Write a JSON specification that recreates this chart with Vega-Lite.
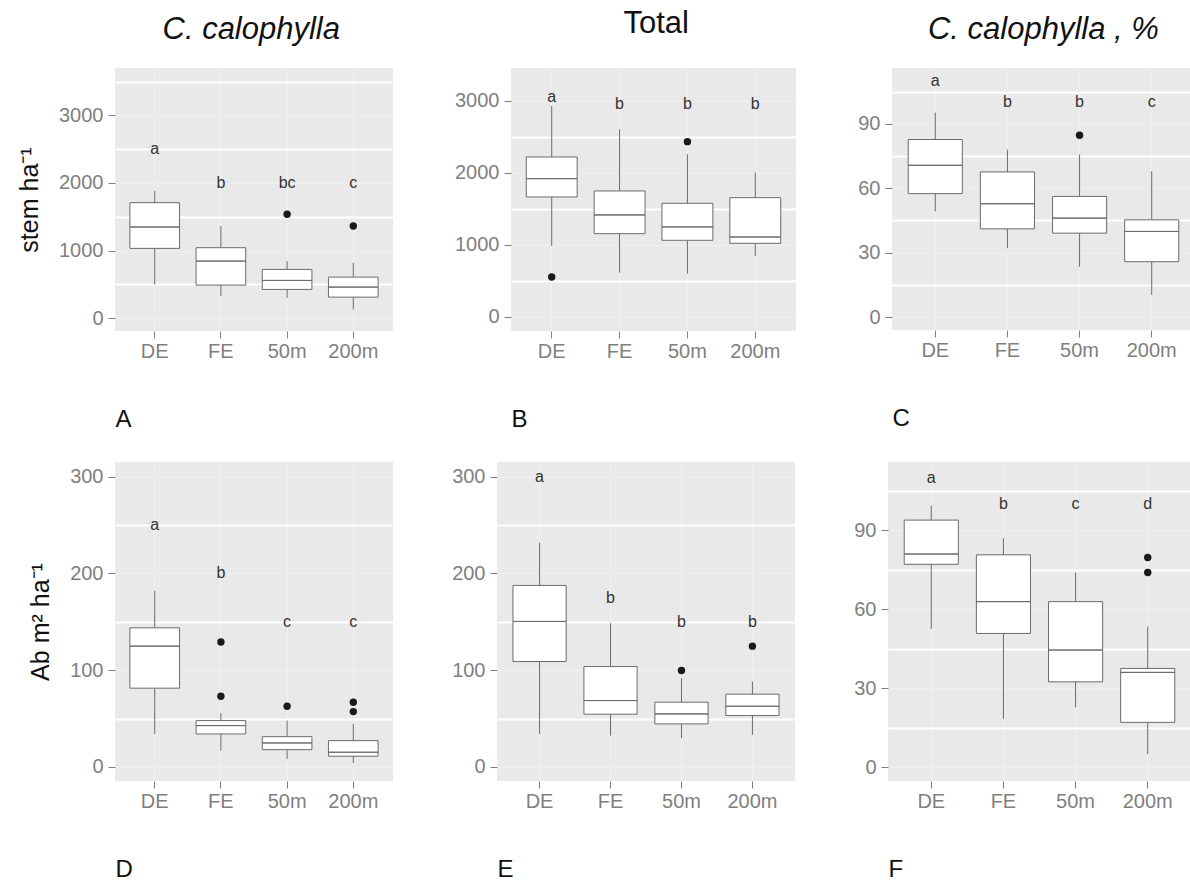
{
  "$schema": "https://vega.github.io/schema/vega-lite/v6.json",
  "background": "white",
  "padding": {"left": 17, "top": 8, "right": 0, "bottom": 0},
  "datasets": {
    "boxes": [
      {"panel": "A", "site": "DE", "lo": 499, "q1": 1032, "med": 1348, "q3": 1708, "hi": 1881},
      {"panel": "A", "site": "FE", "lo": 326, "q1": 489, "med": 844, "q3": 1042, "hi": 1363},
      {"panel": "A", "site": "50m", "lo": 301, "q1": 425, "med": 558, "q3": 721, "hi": 844},
      {"panel": "A", "site": "200m", "lo": 128, "q1": 311, "med": 459, "q3": 607, "hi": 820},
      {"panel": "B", "site": "DE", "lo": 986, "q1": 1667, "med": 1921, "q3": 2222, "hi": 2930},
      {"panel": "B", "site": "FE", "lo": 615, "q1": 1157, "med": 1417, "q3": 1750, "hi": 2606},
      {"panel": "B", "site": "50m", "lo": 602, "q1": 1065, "med": 1250, "q3": 1579, "hi": 2259},
      {"panel": "B", "site": "200m", "lo": 847, "q1": 1023, "med": 1111, "q3": 1657, "hi": 2005},
      {"panel": "C", "site": "DE", "lo": 49.2, "q1": 57.5, "med": 70.7, "q3": 82.7, "hi": 95.2},
      {"panel": "C", "site": "FE", "lo": 32.1, "q1": 41.1, "med": 52.8, "q3": 67.6, "hi": 78},
      {"panel": "C", "site": "50m", "lo": 23.5, "q1": 39.1, "med": 46.1, "q3": 56.2, "hi": 75.7},
      {"panel": "C", "site": "200m", "lo": 10.3, "q1": 25.8, "med": 39.9, "q3": 45.3, "hi": 67.9},
      {"panel": "D", "site": "DE", "lo": 34, "q1": 81.4, "med": 124.8, "q3": 143.7, "hi": 182},
      {"panel": "D", "site": "FE", "lo": 16.9, "q1": 34.1, "med": 42.7, "q3": 47.9, "hi": 55.8},
      {"panel": "D", "site": "50m", "lo": 8.3, "q1": 17.9, "med": 24.8, "q3": 31.3, "hi": 47.9},
      {"panel": "D", "site": "200m", "lo": 4.1, "q1": 11.1, "med": 15.2, "q3": 27.2, "hi": 44.5},
      {"panel": "E", "site": "DE", "lo": 34, "q1": 108.9, "med": 150.3, "q3": 187.5, "hi": 231.6},
      {"panel": "E", "site": "FE", "lo": 32.4, "q1": 54.5, "med": 68.6, "q3": 103.7, "hi": 148.6},
      {"panel": "E", "site": "50m", "lo": 29.6, "q1": 44.5, "med": 54.8, "q3": 66.9, "hi": 91.7},
      {"panel": "E", "site": "200m", "lo": 33.1, "q1": 53.1, "med": 62.7, "q3": 75.2, "hi": 88.2},
      {"panel": "F", "site": "DE", "lo": 52.5, "q1": 77.1, "med": 81, "q3": 93.9, "hi": 99.4},
      {"panel": "F", "site": "FE", "lo": 18.3, "q1": 50.8, "med": 62.9, "q3": 80.7, "hi": 87},
      {"panel": "F", "site": "50m", "lo": 22.7, "q1": 32.4, "med": 44.5, "q3": 62.9, "hi": 74},
      {"panel": "F", "site": "200m", "lo": 4.9, "q1": 17, "med": 36, "q3": 37.5, "hi": 53.5}
    ],
    "outliers": [
      {"panel": "A", "site": "50m", "v": 1536},
      {"panel": "A", "site": "200m", "v": 1363},
      {"panel": "B", "site": "DE", "v": 556},
      {"panel": "B", "site": "50m", "v": 2435},
      {"panel": "C", "site": "50m", "v": 84.7},
      {"panel": "D", "site": "FE", "v": 129},
      {"panel": "D", "site": "FE", "v": 73},
      {"panel": "D", "site": "50m", "v": 62.7},
      {"panel": "D", "site": "200m", "v": 66.9},
      {"panel": "D", "site": "200m", "v": 57.2},
      {"panel": "E", "site": "50m", "v": 99.6},
      {"panel": "E", "site": "200m", "v": 124.8},
      {"panel": "F", "site": "200m", "v": 79.7},
      {"panel": "F", "site": "200m", "v": 74}
    ],
    "letters": [
      {"panel": "A", "site": "DE", "letter": "a", "ly": 2500},
      {"panel": "A", "site": "FE", "letter": "b", "ly": 2000},
      {"panel": "A", "site": "50m", "letter": "bc", "ly": 2000},
      {"panel": "A", "site": "200m", "letter": "c", "ly": 2000},
      {"panel": "B", "site": "DE", "letter": "a", "ly": 3050},
      {"panel": "B", "site": "FE", "letter": "b", "ly": 2960},
      {"panel": "B", "site": "50m", "letter": "b", "ly": 2960},
      {"panel": "B", "site": "200m", "letter": "b", "ly": 2960},
      {"panel": "C", "site": "DE", "letter": "a", "ly": 110},
      {"panel": "C", "site": "FE", "letter": "b", "ly": 100},
      {"panel": "C", "site": "50m", "letter": "b", "ly": 100},
      {"panel": "C", "site": "200m", "letter": "c", "ly": 100},
      {"panel": "D", "site": "DE", "letter": "a", "ly": 250},
      {"panel": "D", "site": "FE", "letter": "b", "ly": 200},
      {"panel": "D", "site": "50m", "letter": "c", "ly": 150},
      {"panel": "D", "site": "200m", "letter": "c", "ly": 150},
      {"panel": "E", "site": "DE", "letter": "a", "ly": 300},
      {"panel": "E", "site": "FE", "letter": "b", "ly": 175},
      {"panel": "E", "site": "50m", "letter": "b", "ly": 150},
      {"panel": "E", "site": "200m", "letter": "b", "ly": 150},
      {"panel": "F", "site": "DE", "letter": "a", "ly": 110},
      {"panel": "F", "site": "FE", "letter": "b", "ly": 100},
      {"panel": "F", "site": "50m", "letter": "c", "ly": 100},
      {"panel": "F", "site": "200m", "letter": "d", "ly": 100}
    ]
  },
  "config": {
    "font": "Liberation Sans",
    "view": {"fill": "#e9e9e9", "stroke": null},
    "axis": {"labelFont": "Liberation Sans", "labelFontSize": 20, "labelColor": "#7f7f7f", "tickColor": "#7f7f7f", "tickSize": 7, "tickWidth": 1, "domain": false, "titleFont": "Liberation Sans", "titleFontWeight": "normal", "titleColor": "#111111"},
    "axisX": {"labelAngle": 0, "labelPadding": 3, "grid": true, "gridColor": "#f0f0f0", "gridWidth": 1, "titleFontSize": 24, "titleAnchor": "start", "titleAlign": "left", "titlePadding": 46},
    "axisY": {"labelPadding": 5, "titleFontSize": 25, "titlePadding": 16, "gridColor": "#efefef", "gridWidth": 1},
    "title": {"font": "Liberation Sans", "fontSize": 31, "fontWeight": "normal", "color": "#111111", "anchor": "middle", "frame": "bounds"}
  },
  "spacing": 31,
  "vconcat": [
    {
      "spacing": 61,
      "hconcat": [
        {
          "title": {"text": "C. calophylla", "fontStyle": "italic", "offset": 22, "dx": 46},
          "vconcat": [
            {
              "width": 278, "height": 263,
              "resolve": {"axis": {"y": "independent"}},
              "layer": [
                {"data": {"name": "boxes"}, "transform": [{"filter": "datum.panel === 'A'"}],
                 "mark": {"type": "rule", "color": "#6b6b6b", "strokeWidth": 1},
                 "encoding": {
                   "x": {"field": "site", "type": "nominal", "scale": {"domain": ["DE", "FE", "50m", "200m"], "paddingInner": 0.25, "paddingOuter": 0.225}, "axis": {"title": "A"}},
                   "y": {"field": "lo", "type": "quantitative", "scale": {"domain": [-190, 3700], "nice": false, "zero": false},
                         "axis": {"title": "stem ha⁻¹", "format": "d", "orient": "left", "values": [0, 1000, 2000, 3000]}},
                   "y2": {"field": "hi"}}},
                {"data": {"name": "boxes"}, "transform": [{"filter": "datum.panel === 'A'"}],
                 "mark": {"type": "bar", "fill": "white", "stroke": "#6b6b6b", "strokeWidth": 1},
                 "encoding": {"x": {"field": "site", "type": "nominal"}, "y": {"field": "q1", "type": "quantitative", "axis": null}, "y2": {"field": "q3"}}},
                {"data": {"name": "boxes"}, "transform": [{"filter": "datum.panel === 'A'"}],
                 "mark": {"type": "bar", "fill": "white", "stroke": "#6b6b6b", "strokeWidth": 1},
                 "encoding": {"x": {"field": "site", "type": "nominal"}, "y": {"field": "med", "type": "quantitative", "axis": null}, "y2": {"field": "med"}}},
                {"data": {"name": "outliers"}, "transform": [{"filter": "datum.panel === 'A'"}],
                 "mark": {"type": "point", "shape": "circle", "filled": true, "color": "#1a1a1a", "size": 55, "opacity": 1},
                 "encoding": {"x": {"field": "site", "type": "nominal"}, "y": {"field": "v", "type": "quantitative", "axis": null}}},
                {"data": {"name": "letters"}, "transform": [{"filter": "datum.panel === 'A'"}],
                 "mark": {"type": "text", "fontSize": 16, "color": "#333333", "baseline": "middle"},
                 "encoding": {"x": {"field": "site", "type": "nominal"},
                   "y": {"field": "ly", "type": "quantitative", "axis": {"orient": "left", "values": [500, 1500, 2500, 3500], "grid": true, "gridColor": "#ffffff", "gridWidth": 1.8, "labels": false, "ticks": false, "domain": false, "title": null}},
                   "text": {"field": "letter"}}}
              ]
            }
          ]
        },
        {
          "title": {"text": "Total", "offset": 28, "dx": 31},
          "vconcat": [
            {
              "width": 285, "height": 263,
              "resolve": {"axis": {"y": "independent"}},
              "layer": [
                {"data": {"name": "boxes"}, "transform": [{"filter": "datum.panel === 'B'"}],
                 "mark": {"type": "rule", "color": "#6b6b6b", "strokeWidth": 1},
                 "encoding": {
                   "x": {"field": "site", "type": "nominal", "scale": {"domain": ["DE", "FE", "50m", "200m"], "paddingInner": 0.25, "paddingOuter": 0.225}, "axis": {"title": "B"}},
                   "y": {"field": "lo", "type": "quantitative", "scale": {"domain": [-195, 3458], "nice": false, "zero": false},
                         "axis": {"title": null, "format": "d", "orient": "left", "values": [0, 1000, 2000, 3000]}},
                   "y2": {"field": "hi"}}},
                {"data": {"name": "boxes"}, "transform": [{"filter": "datum.panel === 'B'"}],
                 "mark": {"type": "bar", "fill": "white", "stroke": "#6b6b6b", "strokeWidth": 1},
                 "encoding": {"x": {"field": "site", "type": "nominal"}, "y": {"field": "q1", "type": "quantitative", "axis": null}, "y2": {"field": "q3"}}},
                {"data": {"name": "boxes"}, "transform": [{"filter": "datum.panel === 'B'"}],
                 "mark": {"type": "bar", "fill": "white", "stroke": "#6b6b6b", "strokeWidth": 1},
                 "encoding": {"x": {"field": "site", "type": "nominal"}, "y": {"field": "med", "type": "quantitative", "axis": null}, "y2": {"field": "med"}}},
                {"data": {"name": "outliers"}, "transform": [{"filter": "datum.panel === 'B'"}],
                 "mark": {"type": "point", "shape": "circle", "filled": true, "color": "#1a1a1a", "size": 55, "opacity": 1},
                 "encoding": {"x": {"field": "site", "type": "nominal"}, "y": {"field": "v", "type": "quantitative", "axis": null}}},
                {"data": {"name": "letters"}, "transform": [{"filter": "datum.panel === 'B'"}],
                 "mark": {"type": "text", "fontSize": 16, "color": "#333333", "baseline": "middle"},
                 "encoding": {"x": {"field": "site", "type": "nominal"},
                   "y": {"field": "ly", "type": "quantitative", "axis": {"orient": "left", "values": [500, 1500, 2500], "grid": true, "gridColor": "#ffffff", "gridWidth": 1.8, "labels": false, "ticks": false, "domain": false, "title": null}},
                   "text": {"field": "letter"}}}
              ]
            }
          ]
        },
        {
          "title": {"text": "C. calophylla , %", "fontStyle": "italic", "offset": 22, "dx": 17},
          "vconcat": [
            {
              "width": 303, "height": 262,
              "resolve": {"axis": {"y": "independent"}},
              "layer": [
                {"data": {"name": "boxes"}, "transform": [{"filter": "datum.panel === 'C'"}],
                 "mark": {"type": "rule", "color": "#6b6b6b", "strokeWidth": 1},
                 "encoding": {
                   "x": {"field": "site", "type": "nominal", "scale": {"domain": ["DE", "FE", "50m", "200m"], "paddingInner": 0.25, "paddingOuter": 0.225}, "axis": {"title": "C"}},
                   "y": {"field": "lo", "type": "quantitative", "scale": {"domain": [-6, 116], "nice": false, "zero": false},
                         "axis": {"title": null, "format": "d", "orient": "left", "values": [0, 30, 60, 90]}},
                   "y2": {"field": "hi"}}},
                {"data": {"name": "boxes"}, "transform": [{"filter": "datum.panel === 'C'"}],
                 "mark": {"type": "bar", "fill": "white", "stroke": "#6b6b6b", "strokeWidth": 1},
                 "encoding": {"x": {"field": "site", "type": "nominal"}, "y": {"field": "q1", "type": "quantitative", "axis": null}, "y2": {"field": "q3"}}},
                {"data": {"name": "boxes"}, "transform": [{"filter": "datum.panel === 'C'"}],
                 "mark": {"type": "bar", "fill": "white", "stroke": "#6b6b6b", "strokeWidth": 1},
                 "encoding": {"x": {"field": "site", "type": "nominal"}, "y": {"field": "med", "type": "quantitative", "axis": null}, "y2": {"field": "med"}}},
                {"data": {"name": "outliers"}, "transform": [{"filter": "datum.panel === 'C'"}],
                 "mark": {"type": "point", "shape": "circle", "filled": true, "color": "#1a1a1a", "size": 55, "opacity": 1},
                 "encoding": {"x": {"field": "site", "type": "nominal"}, "y": {"field": "v", "type": "quantitative", "axis": null}}},
                {"data": {"name": "letters"}, "transform": [{"filter": "datum.panel === 'C'"}],
                 "mark": {"type": "text", "fontSize": 16, "color": "#333333", "baseline": "middle"},
                 "encoding": {"x": {"field": "site", "type": "nominal"},
                   "y": {"field": "ly", "type": "quantitative", "axis": {"orient": "left", "values": [15, 45, 75, 105], "grid": true, "gridColor": "#ffffff", "gridWidth": 1.8, "labels": false, "ticks": false, "domain": false, "title": null}},
                   "text": {"field": "letter"}}}
              ]
            }
          ]
        }
      ]
    },
    {
      "spacing": 58,
      "hconcat": [
        {
          "width": 278, "height": 319,
          "resolve": {"axis": {"y": "independent"}},
          "layer": [
            {"data": {"name": "boxes"}, "transform": [{"filter": "datum.panel === 'D'"}],
             "mark": {"type": "rule", "color": "#6b6b6b", "strokeWidth": 1},
             "encoding": {
               "x": {"field": "site", "type": "nominal", "scale": {"domain": ["DE", "FE", "50m", "200m"], "paddingInner": 0.25, "paddingOuter": 0.225}, "axis": {"title": "D"}},
               "y": {"field": "lo", "type": "quantitative", "scale": {"domain": [-14.5, 315], "nice": false, "zero": false},
                     "axis": {"title": "Ab m² ha⁻¹", "format": "d", "orient": "left", "values": [0, 100, 200, 300]}},
               "y2": {"field": "hi"}}},
            {"data": {"name": "boxes"}, "transform": [{"filter": "datum.panel === 'D'"}],
             "mark": {"type": "bar", "fill": "white", "stroke": "#6b6b6b", "strokeWidth": 1},
             "encoding": {"x": {"field": "site", "type": "nominal"}, "y": {"field": "q1", "type": "quantitative", "axis": null}, "y2": {"field": "q3"}}},
            {"data": {"name": "boxes"}, "transform": [{"filter": "datum.panel === 'D'"}],
             "mark": {"type": "bar", "fill": "white", "stroke": "#6b6b6b", "strokeWidth": 1},
             "encoding": {"x": {"field": "site", "type": "nominal"}, "y": {"field": "med", "type": "quantitative", "axis": null}, "y2": {"field": "med"}}},
            {"data": {"name": "outliers"}, "transform": [{"filter": "datum.panel === 'D'"}],
             "mark": {"type": "point", "shape": "circle", "filled": true, "color": "#1a1a1a", "size": 55, "opacity": 1},
             "encoding": {"x": {"field": "site", "type": "nominal"}, "y": {"field": "v", "type": "quantitative", "axis": null}}},
            {"data": {"name": "letters"}, "transform": [{"filter": "datum.panel === 'D'"}],
             "mark": {"type": "text", "fontSize": 16, "color": "#333333", "baseline": "middle"},
             "encoding": {"x": {"field": "site", "type": "nominal"},
               "y": {"field": "ly", "type": "quantitative", "axis": {"orient": "left", "values": [50, 150, 250], "grid": true, "gridColor": "#ffffff", "gridWidth": 1.8, "labels": false, "ticks": false, "domain": false, "title": null}},
               "text": {"field": "letter"}}}
          ]
        },
        {
          "width": 298, "height": 319,
          "resolve": {"axis": {"y": "independent"}},
          "layer": [
            {"data": {"name": "boxes"}, "transform": [{"filter": "datum.panel === 'E'"}],
             "mark": {"type": "rule", "color": "#6b6b6b", "strokeWidth": 1},
             "encoding": {
               "x": {"field": "site", "type": "nominal", "scale": {"domain": ["DE", "FE", "50m", "200m"], "paddingInner": 0.25, "paddingOuter": 0.225}, "axis": {"title": "E"}},
               "y": {"field": "lo", "type": "quantitative", "scale": {"domain": [-14.5, 315], "nice": false, "zero": false},
                     "axis": {"title": null, "format": "d", "orient": "left", "values": [0, 100, 200, 300]}},
               "y2": {"field": "hi"}}},
            {"data": {"name": "boxes"}, "transform": [{"filter": "datum.panel === 'E'"}],
             "mark": {"type": "bar", "fill": "white", "stroke": "#6b6b6b", "strokeWidth": 1},
             "encoding": {"x": {"field": "site", "type": "nominal"}, "y": {"field": "q1", "type": "quantitative", "axis": null}, "y2": {"field": "q3"}}},
            {"data": {"name": "boxes"}, "transform": [{"filter": "datum.panel === 'E'"}],
             "mark": {"type": "bar", "fill": "white", "stroke": "#6b6b6b", "strokeWidth": 1},
             "encoding": {"x": {"field": "site", "type": "nominal"}, "y": {"field": "med", "type": "quantitative", "axis": null}, "y2": {"field": "med"}}},
            {"data": {"name": "outliers"}, "transform": [{"filter": "datum.panel === 'E'"}],
             "mark": {"type": "point", "shape": "circle", "filled": true, "color": "#1a1a1a", "size": 55, "opacity": 1},
             "encoding": {"x": {"field": "site", "type": "nominal"}, "y": {"field": "v", "type": "quantitative", "axis": null}}},
            {"data": {"name": "letters"}, "transform": [{"filter": "datum.panel === 'E'"}],
             "mark": {"type": "text", "fontSize": 16, "color": "#333333", "baseline": "middle"},
             "encoding": {"x": {"field": "site", "type": "nominal"},
               "y": {"field": "ly", "type": "quantitative", "axis": {"orient": "left", "values": [50, 150, 250], "grid": true, "gridColor": "#ffffff", "gridWidth": 1.8, "labels": false, "ticks": false, "domain": false, "title": null}},
               "text": {"field": "letter"}}}
          ]
        },
        {
          "width": 303, "height": 319,
          "resolve": {"axis": {"y": "independent"}},
          "layer": [
            {"data": {"name": "boxes"}, "transform": [{"filter": "datum.panel === 'F'"}],
             "mark": {"type": "rule", "color": "#6b6b6b", "strokeWidth": 1},
             "encoding": {
               "x": {"field": "site", "type": "nominal", "scale": {"domain": ["DE", "FE", "50m", "200m"], "paddingInner": 0.25, "paddingOuter": 0.225}, "axis": {"title": "F"}},
               "y": {"field": "lo", "type": "quantitative", "scale": {"domain": [-5.3, 116], "nice": false, "zero": false},
                     "axis": {"title": null, "format": "d", "orient": "left", "values": [0, 30, 60, 90]}},
               "y2": {"field": "hi"}}},
            {"data": {"name": "boxes"}, "transform": [{"filter": "datum.panel === 'F'"}],
             "mark": {"type": "bar", "fill": "white", "stroke": "#6b6b6b", "strokeWidth": 1},
             "encoding": {"x": {"field": "site", "type": "nominal"}, "y": {"field": "q1", "type": "quantitative", "axis": null}, "y2": {"field": "q3"}}},
            {"data": {"name": "boxes"}, "transform": [{"filter": "datum.panel === 'F'"}],
             "mark": {"type": "bar", "fill": "white", "stroke": "#6b6b6b", "strokeWidth": 1},
             "encoding": {"x": {"field": "site", "type": "nominal"}, "y": {"field": "med", "type": "quantitative", "axis": null}, "y2": {"field": "med"}}},
            {"data": {"name": "outliers"}, "transform": [{"filter": "datum.panel === 'F'"}],
             "mark": {"type": "point", "shape": "circle", "filled": true, "color": "#1a1a1a", "size": 55, "opacity": 1},
             "encoding": {"x": {"field": "site", "type": "nominal"}, "y": {"field": "v", "type": "quantitative", "axis": null}}},
            {"data": {"name": "letters"}, "transform": [{"filter": "datum.panel === 'F'"}],
             "mark": {"type": "text", "fontSize": 16, "color": "#333333", "baseline": "middle"},
             "encoding": {"x": {"field": "site", "type": "nominal"},
               "y": {"field": "ly", "type": "quantitative", "axis": {"orient": "left", "values": [15, 45, 75, 105], "grid": true, "gridColor": "#ffffff", "gridWidth": 1.8, "labels": false, "ticks": false, "domain": false, "title": null}},
               "text": {"field": "letter"}}}
          ]
        }
      ]
    }
  ]
}
